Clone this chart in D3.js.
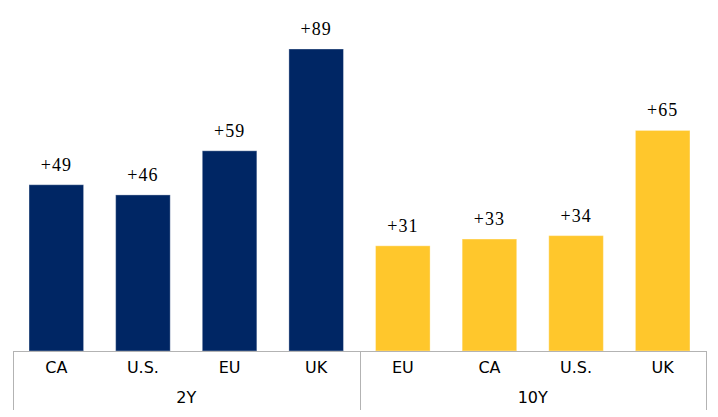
<!DOCTYPE html>
<html>
<head>
<meta charset="utf-8">
<script src="https://cdn.jsdelivr.net/npm/d3@7"></script>
<style>
  body { margin: 0; background: #fff; }
</style>
</head>
<body>
<div id="chart"></div>
<script>
// Data
var groups = ["2Y", "10Y"];
var cats2Y = ["CA", "U.S.", "EU", "UK"];
var vals2Y = [49, 46, 59, 89];
var cats10Y = ["EU", "CA", "U.S.", "UK"];
var vals10Y = [31, 33, 34, 65];
var groupColors = ["#002664", "#FFC72C"];

function init() {
    var w = 718, h = 417;
    var axisY = 351;      // baseline of the bars
    var left = 13, right = 706;

    var svg = d3.select("#chart").append("svg")
        .attr("width", w)
        .attr("height", h);

    var groupData = [
        { name: groups[0], cats: cats2Y, vals: vals2Y, color: groupColors[0] },
        { name: groups[1], cats: cats10Y, vals: vals10Y, color: groupColors[1] }
    ];

    // outer scale: one band per group
    var groupScale = d3.scaleBand()
        .domain(groups)
        .range([left, right]);

    var yScale = d3.scaleLinear()
        .domain([0, 89])
        .range([axisY, 49]);

    groupData.forEach(function (g) {
        var x0 = groupScale(g.name);
        var xScale = d3.scaleBand()
            .domain(g.cats)
            .range([x0, x0 + groupScale.bandwidth()])
            .paddingInner(0.37)
            .paddingOuter(0.185);

        var data = g.cats.map(function (c, i) { return { cat: c, value: g.vals[i] }; });

        var gg = svg.append("g");

        gg.selectAll("rect")
            .data(data)
            .enter()
            .append("rect")
            .attr("x", d => xScale(d.cat))
            .attr("y", d => yScale(d.value))
            .attr("width", xScale.bandwidth())
            .attr("height", d => axisY - yScale(d.value))
            .attr("fill", g.color)
            .attr("stroke", "rgba(255,255,255,0.35)")
            .attr("stroke-width", 1);

        // value labels
        gg.selectAll("text.val")
            .data(data)
            .enter()
            .append("text")
            .attr("class", "val")
            .attr("x", d => xScale(d.cat) + xScale.bandwidth() / 2)
            .attr("y", d => yScale(d.value) - 14)
            .attr("text-anchor", "middle")
            .style("font-family", "'Liberation Serif', 'DejaVu Serif', serif")
            .style("font-size", "18px")
            .style("letter-spacing", "1px")
            .style("fill", "#000")
            .text(d => "+" + d.value);

        // category labels
        gg.selectAll("text.cat")
            .data(data)
            .enter()
            .append("text")
            .attr("class", "cat")
            .attr("x", d => xScale(d.cat) + xScale.bandwidth() / 2)
            .attr("y", axisY + 22)
            .attr("text-anchor", "middle")
            .style("font-family", "'DejaVu Sans', sans-serif")
            .style("font-size", "16px")
            .style("fill", "#000")
            .text(d => d.cat);

        // group label
        gg.append("text")
            .attr("x", x0 + groupScale.bandwidth() / 2)
            .attr("y", axisY + 52)
            .attr("text-anchor", "middle")
            .style("font-family", "'DejaVu Sans', sans-serif")
            .style("font-size", "16px")
            .style("fill", "#000")
            .text(g.name);
    });

    // axis line and group separators
    svg.append("line")
        .attr("x1", left).attr("x2", right)
        .attr("y1", axisY + 0.5).attr("y2", axisY + 0.5)
        .attr("stroke", "#b3b3b3");

    var seps = [left, groupScale(groups[1]), right];
    svg.selectAll("line.sep")
        .data(seps)
        .enter()
        .append("line")
        .attr("class", "sep")
        .attr("x1", d => Math.round(d) + 0.5).attr("x2", d => Math.round(d) + 0.5)
        .attr("y1", axisY).attr("y2", 410)
        .attr("stroke", "#b3b3b3");
}

window.onload = init;
</script>
</body>
</html>
